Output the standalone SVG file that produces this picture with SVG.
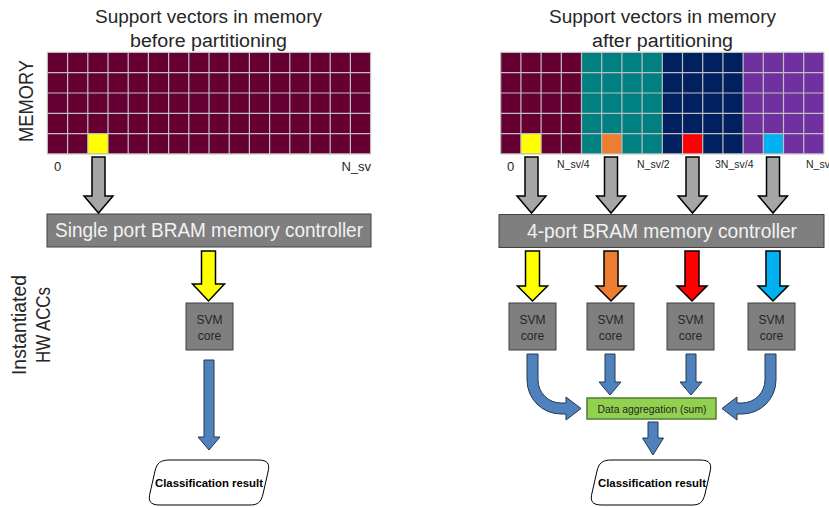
<svg xmlns="http://www.w3.org/2000/svg" width="829" height="507" viewBox="0 0 829 507">
<style>
text{font-family:"Liberation Sans","DejaVu Sans",sans-serif;fill:#262626}
.title{font-size:18px}
.side{font-size:20px}
.idx{font-size:13px}
.idxs{font-size:10.5px}
.grid{fill:none;stroke:#BFBFBF;stroke-width:1.2}
.ctrl{fill:#7F7F7F;stroke:#404040;stroke-width:1}
.ctrlt{font-size:19.5px;fill:#F2F2F2}
.core{fill:#7F7F7F;stroke:#404040;stroke-width:1}
.coret{font-size:12px;fill:#262626}
.ga{fill:#A6A6A6;stroke:#000;stroke-width:1.5;stroke-linejoin:miter}
.ca{stroke:#000;stroke-width:1.5;stroke-linejoin:miter}
.ba{fill:#4F81BD;stroke:#22384F;stroke-width:1}
.res{fill:#fff;stroke:#000;stroke-width:1}
.rest{font-size:11.5px;font-weight:bold;fill:#000}
.agg{fill:#92D050;stroke:#507E32;stroke-width:1.5}
.aggt{font-size:10px;fill:#262626}
</style>

<!-- side labels -->
<text class="side" transform="translate(33,101) rotate(-90)" text-anchor="middle" textLength="82" lengthAdjust="spacingAndGlyphs">MEMORY</text>
<text class="side" transform="translate(26,325) rotate(-90)" text-anchor="middle" textLength="100" lengthAdjust="spacingAndGlyphs">Instantiated</text>
<text class="side" transform="translate(50,325) rotate(-90)" text-anchor="middle" textLength="76" lengthAdjust="spacingAndGlyphs">HW ACCs</text>

<!-- titles -->
<text class="title" x="208.5" y="22.5" text-anchor="middle" textLength="227" lengthAdjust="spacingAndGlyphs">Support vectors in memory</text>
<text class="title" x="208.5" y="46.5" text-anchor="middle" textLength="157" lengthAdjust="spacingAndGlyphs">before partitioning</text>
<text class="title" x="662.5" y="22.5" text-anchor="middle" textLength="227" lengthAdjust="spacingAndGlyphs">Support vectors in memory</text>
<text class="title" x="662.5" y="46.5" text-anchor="middle" textLength="141" lengthAdjust="spacingAndGlyphs">after partitioning</text>

<!-- left memory -->
<g id="memory-left">
<rect x="47.4" y="52.4" width="323.2" height="101.5" fill="#660033"/>
<rect x="87.8" y="133.6" width="20.2" height="20.3" fill="#FFFF00"/>
<path class="grid" d="M47.4 52.4V153.9M67.6 52.4V153.9M87.8 52.4V153.9M108 52.4V153.9M128.2 52.4V153.9M148.4 52.4V153.9M168.6 52.4V153.9M188.8 52.4V153.9M209 52.4V153.9M229.2 52.4V153.9M249.4 52.4V153.9M269.6 52.4V153.9M289.8 52.4V153.9M310 52.4V153.9M330.2 52.4V153.9M350.4 52.4V153.9M370.6 52.4V153.9M47.4 52.4H370.6M47.4 72.7H370.6M47.4 93H370.6M47.4 113.3H370.6M47.4 133.6H370.6M47.4 153.9H370.6"/>
<text class="idx" x="54" y="171">0</text>
<text class="idx" x="371" y="171" text-anchor="end">N_sv</text>
</g>

<!-- right memory -->
<g id="memory-right">
<rect x="500.7" y="52.4" width="80.8" height="101.5" fill="#660033"/>
<rect x="581.5" y="52.4" width="80.8" height="101.5" fill="#008080"/>
<rect x="662.3" y="52.4" width="80.8" height="101.5" fill="#002060"/>
<rect x="743.1" y="52.4" width="80.8" height="101.5" fill="#7030A0"/>
<rect x="520.9" y="133.6" width="20.2" height="20.3" fill="#FFFF00"/>
<rect x="601.7" y="133.6" width="20.2" height="20.3" fill="#ED7D31"/>
<rect x="682.5" y="133.6" width="20.2" height="20.3" fill="#FF0000"/>
<rect x="763.3" y="133.6" width="20.2" height="20.3" fill="#00B0F0"/>
<path class="grid" d="M500.7 52.4V153.9M520.9 52.4V153.9M541.1 52.4V153.9M561.3 52.4V153.9M581.5 52.4V153.9M601.7 52.4V153.9M621.9 52.4V153.9M642.1 52.4V153.9M662.3 52.4V153.9M682.5 52.4V153.9M702.7 52.4V153.9M722.9 52.4V153.9M743.1 52.4V153.9M763.3 52.4V153.9M783.5 52.4V153.9M803.7 52.4V153.9M823.9 52.4V153.9M500.7 52.4H823.9M500.7 72.7H823.9M500.7 93H823.9M500.7 113.3H823.9M500.7 133.6H823.9M500.7 153.9H823.9"/>
<text class="idx" x="507" y="171">0</text>
<text class="idxs" x="557" y="168">N_sv/4</text>
<text class="idxs" x="637" y="168">N_sv/2</text>
<text class="idxs" x="715" y="168">3N_sv/4</text>
<text class="idxs" x="806" y="168">N_sv</text>
</g>

<!-- controllers -->
<g id="ctrl-left">
<rect class="ctrl" x="47" y="214" width="324" height="33"/>
<text class="ctrlt" x="209" y="237" text-anchor="middle" textLength="308" lengthAdjust="spacingAndGlyphs">Single port BRAM memory controller</text>
</g>
<g id="ctrl-right">
<rect class="ctrl" x="499" y="214.5" width="325" height="33"/>
<text class="ctrlt" x="662" y="237.5" text-anchor="middle" textLength="270" lengthAdjust="spacingAndGlyphs">4-port BRAM memory controller</text>
</g>

<!-- SVM cores -->
<g id="core-left"><rect class="core" x="186" y="303" width="47" height="47"/><text class="coret" x="209.5" y="323.5" text-anchor="middle">SVM</text><text class="coret" x="209.5" y="340" text-anchor="middle">core</text></g>
<g id="core-r1"><rect class="core" x="509" y="303" width="47" height="47"/><text class="coret" x="532.5" y="323.5" text-anchor="middle">SVM</text><text class="coret" x="532.5" y="340" text-anchor="middle">core</text></g>
<g id="core-r2"><rect class="core" x="587" y="303" width="47" height="47"/><text class="coret" x="610.5" y="323.5" text-anchor="middle">SVM</text><text class="coret" x="610.5" y="340" text-anchor="middle">core</text></g>
<g id="core-r3"><rect class="core" x="667" y="303" width="47" height="47"/><text class="coret" x="690.5" y="323.5" text-anchor="middle">SVM</text><text class="coret" x="690.5" y="340" text-anchor="middle">core</text></g>
<g id="core-r4"><rect class="core" x="748" y="303" width="47" height="47"/><text class="coret" x="771.5" y="323.5" text-anchor="middle">SVM</text><text class="coret" x="771.5" y="340" text-anchor="middle">core</text></g>

<!-- aggregation -->
<g id="aggregation">
<rect class="agg" x="587" y="398" width="129" height="21"/>
<text class="aggt" x="652" y="412.5" text-anchor="middle" textLength="109" lengthAdjust="spacingAndGlyphs">Data aggregation (sum)</text>
</g>

<!-- results -->
<g id="result-left">
<path class="res" d="M170 460H258C268 460 270 464 268 472L263 494C261 502 258 505 250 505H160C150 505 148 501 150 493L155 471C157 463 160 460 170 460Z"/>
<text class="rest" x="209" y="487" text-anchor="middle" textLength="108" lengthAdjust="spacingAndGlyphs">Classification result</text>
</g>
<g id="result-right">
<path class="res" d="M612 460H700C710 460 712 464 710 472L705 494C703 502 700 505 692 505H602C592 505 590 501 592 493L597 471C599 463 602 460 612 460Z"/>
<text class="rest" x="652" y="487" text-anchor="middle" textLength="108" lengthAdjust="spacingAndGlyphs">Classification result</text>
</g>

<!-- connectors -->
<g id="connectors">
<path class="ga" d="M92 157H105V196H113L98.5 213L84 196H92Z"/>
<path class="ga" d="M525 157H538V196H546L531.5 213L517 196H525Z"/>
<path class="ga" d="M604.5 157H617.5V196H625.5L611 213L596.5 196H604.5Z"/>
<path class="ga" d="M686 157H699V196H707L692.5 213L678 196H686Z"/>
<path class="ga" d="M766.5 157H779.5V196H787.5L773 213L758.5 196H766.5Z"/>

<path class="ca" fill="#FFFF00" d="M201.5 251H215.5V284H224.5L208.5 301L192.5 284H201.5Z"/>
<path class="ca" fill="#FFFF00" d="M525.5 251H539.5V286H547.5L532.5 301L517.5 286H525.5Z"/>
<path class="ca" fill="#ED7D31" d="M604 251H618V286H626L611 301L596 286H604Z"/>
<path class="ca" fill="#FF0000" d="M685 251H699V286H707L692 301L677 286H685Z"/>
<path class="ca" fill="#00B0F0" d="M766 251H780V286H788L773 301L758 286H766Z"/>

<path class="ba" d="M204 360H214V437H220L209 450L198 437H204Z"/>
<path class="ba" d="M605 354H615V382H621L610 395L599 382H605Z"/>
<path class="ba" d="M686 354H696V382H702L691 395L680 382H686Z"/>
<path class="ba" d="M648 422H658V438H663.5L653 455L642.5 438H648Z"/>
<path class="ba" d="M527 354H538V380A23 23 0 0 0 561 403H566V397L581 408.5L566 420V414H561A34 34 0 0 1 527 380Z"/>
<path class="ba" d="M776 354H765V380A23 23 0 0 1 742 403H737V397L722 408.5L737 420V414H742A34 34 0 0 0 776 380Z"/>
</g>
</svg>
